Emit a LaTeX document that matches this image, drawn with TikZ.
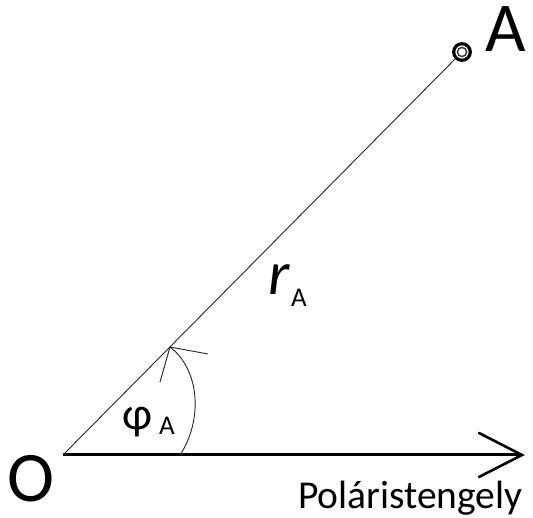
\documentclass[tikz,border=0pt]{standalone}
\usepackage{fontspec}
\setmainfont{Carlito}
\begin{document}
\begin{tikzpicture}[x=1pt,y=-1pt,
  lbl/.style={inner sep=0pt,anchor=base west},
  thinline/.style={line width=0.9pt,black!85},
  axisline/.style={line width=3pt,black},
  tipline/.style={line width=2.6pt,black,line cap=round}]
\useasboundingbox (0,0) rectangle (533,518);
\coordinate (O) at (63,455);
\coordinate (A) at (462,52);
\coordinate (E) at (522,455);
\coordinate (T1) at (479,433);
\coordinate (T2) at (479,477);
\coordinate (S) at (180,455);
\coordinate (P) at (170,347);
\coordinate (H1) at (160,382);
\coordinate (H2) at (208,354);
% axis
\draw[axisline] (O) -- (E);
\draw[tipline] (T1) -- (E) -- (T2);
% radius line
\draw[thinline] (O) -- (A);
% angle arc
\draw[thinline] (S) .. controls (203,420) and (200,370) .. (P);
\draw[thinline] (H1) -- (P) -- (H2);
% point A
\fill[white] (A) circle (8);
\draw[line width=3.2pt] (A) circle (8.3);
\draw[line width=1.4pt,black!80] (A) circle (4.6);
% labels
\node[lbl,font=\fontsize{70}{70}\selectfont] (LA) at (485,52) {A};
\node[lbl,font=\fontsize{71}{71}\selectfont] (LO) at (7,501) {O};
\node[lbl,font=\fontsize{39.5}{40}\selectfont] (LP) at (298,508) {Polár\-istengely};
\node[lbl,font=\fontsize{46}{46}\selectfont] (LPhi) at (122,430) {φ};
\node[lbl,font=\fontsize{27}{27}\selectfont] (LPhiA) at (159,435) {A};
\node[lbl,font=\fontsize{62}{62}\selectfont\itshape] (Lr) at (268,295) {r};
\node[lbl,font=\fontsize{27}{27}\selectfont] (LrA) at (291,307) {A};
\end{tikzpicture}
\end{document}
